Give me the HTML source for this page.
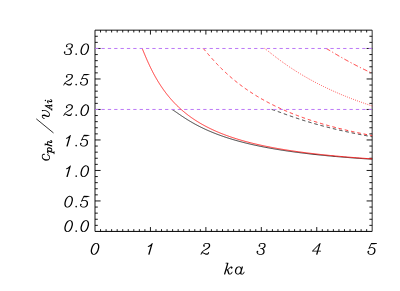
<!DOCTYPE html><html><head><meta charset="utf-8"><style>html,body{margin:0;padding:0;background:#fff;font-family:"Liberation Sans",sans-serif}svg{display:block}</style></head><body><svg width="400" height="291" viewBox="0 0 400 291"><rect width="400" height="291" fill="#fff"/><path d="M95.00 30.17V231.45" fill="none" stroke="#000" stroke-width="0.92"/><path d="M372.17 30.17V231.45" fill="none" stroke="#000" stroke-width="0.82"/><path d="M95.00 30.17H372.15" fill="none" stroke="#000" stroke-width="0.93"/><path d="M95.00 231.42H372.15" fill="none" stroke="#000" stroke-width="1.0"/><path d="M100.54 231.45v-2.30M100.54 30.17v2.30M106.09 231.45v-2.30M106.09 30.17v2.30M111.63 231.45v-2.30M111.63 30.17v2.30M117.18 231.45v-2.30M117.18 30.17v2.30M122.72 231.45v-2.30M122.72 30.17v2.30M128.26 231.45v-2.30M128.26 30.17v2.30M133.81 231.45v-2.30M133.81 30.17v2.30M139.35 231.45v-2.30M139.35 30.17v2.30M144.90 231.45v-2.30M144.90 30.17v2.30M150.44 231.45v-4.40M150.44 30.17v4.40M155.98 231.45v-2.30M155.98 30.17v2.30M161.53 231.45v-2.30M161.53 30.17v2.30M167.07 231.45v-2.30M167.07 30.17v2.30M172.62 231.45v-2.30M172.62 30.17v2.30M178.16 231.45v-2.30M178.16 30.17v2.30M183.70 231.45v-2.30M183.70 30.17v2.30M189.25 231.45v-2.30M189.25 30.17v2.30M194.79 231.45v-2.30M194.79 30.17v2.30M200.34 231.45v-2.30M200.34 30.17v2.30M205.88 231.45v-4.40M205.88 30.17v4.40M211.42 231.45v-2.30M211.42 30.17v2.30M216.97 231.45v-2.30M216.97 30.17v2.30M222.51 231.45v-2.30M222.51 30.17v2.30M228.06 231.45v-2.30M228.06 30.17v2.30M233.60 231.45v-2.30M233.60 30.17v2.30M239.14 231.45v-2.30M239.14 30.17v2.30M244.69 231.45v-2.30M244.69 30.17v2.30M250.23 231.45v-2.30M250.23 30.17v2.30M255.78 231.45v-2.30M255.78 30.17v2.30M261.32 231.45v-4.40M261.32 30.17v4.40M266.86 231.45v-2.30M266.86 30.17v2.30M272.41 231.45v-2.30M272.41 30.17v2.30M277.95 231.45v-2.30M277.95 30.17v2.30M283.50 231.45v-2.30M283.50 30.17v2.30M289.04 231.45v-2.30M289.04 30.17v2.30M294.58 231.45v-2.30M294.58 30.17v2.30M300.13 231.45v-2.30M300.13 30.17v2.30M305.67 231.45v-2.30M305.67 30.17v2.30M311.22 231.45v-2.30M311.22 30.17v2.30M316.76 231.45v-4.40M316.76 30.17v4.40M322.30 231.45v-2.30M322.30 30.17v2.30M327.85 231.45v-2.30M327.85 30.17v2.30M333.39 231.45v-2.30M333.39 30.17v2.30M338.94 231.45v-2.30M338.94 30.17v2.30M344.48 231.45v-2.30M344.48 30.17v2.30M350.02 231.45v-2.30M350.02 30.17v2.30M355.57 231.45v-2.30M355.57 30.17v2.30M361.11 231.45v-2.30M361.11 30.17v2.30M366.66 231.45v-2.30M366.66 30.17v2.30M95.00 225.35h2.80M372.20 225.35h-2.80M95.00 219.25h2.80M372.20 219.25h-2.80M95.00 213.15h2.80M372.20 213.15h-2.80M95.00 207.05h2.80M372.20 207.05h-2.80M95.00 200.95h5.60M372.20 200.95h-5.60M95.00 194.85h2.80M372.20 194.85h-2.80M95.00 188.75h2.80M372.20 188.75h-2.80M95.00 182.65h2.80M372.20 182.65h-2.80M95.00 176.56h2.80M372.20 176.56h-2.80M95.00 170.46h5.60M372.20 170.46h-5.60M95.00 164.36h2.80M372.20 164.36h-2.80M95.00 158.26h2.80M372.20 158.26h-2.80M95.00 152.16h2.80M372.20 152.16h-2.80M95.00 146.06h2.80M372.20 146.06h-2.80M95.00 139.96h5.60M372.20 139.96h-5.60M95.00 133.86h2.80M372.20 133.86h-2.80M95.00 127.76h2.80M372.20 127.76h-2.80M95.00 121.66h2.80M372.20 121.66h-2.80M95.00 115.56h2.80M372.20 115.56h-2.80M95.00 109.46h5.60M372.20 109.46h-5.60M95.00 103.36h2.80M372.20 103.36h-2.80M95.00 97.26h2.80M372.20 97.26h-2.80M95.00 91.16h2.80M372.20 91.16h-2.80M95.00 85.06h2.80M372.20 85.06h-2.80M95.00 78.97h5.60M372.20 78.97h-5.60M95.00 72.87h2.80M372.20 72.87h-2.80M95.00 66.77h2.80M372.20 66.77h-2.80M95.00 60.67h2.80M372.20 60.67h-2.80M95.00 54.57h2.80M372.20 54.57h-2.80M95.00 48.47h5.60M372.20 48.47h-5.60M95.00 42.37h2.80M372.20 42.37h-2.80M95.00 36.27h2.80M372.20 36.27h-2.80" fill="none" stroke="#000" stroke-width="0.90"/><polyline fill="none" stroke="#1a1a1a" stroke-width="0.88" points="171.97,109.46 172.45,109.71 172.90,109.98 173.35,110.26 173.79,110.54 174.21,110.83 174.63,111.11 175.08,111.41 175.51,111.71 175.93,112.00 176.36,112.30 176.78,112.59 177.21,112.89 177.66,113.20 178.08,113.49 178.51,113.79 178.96,114.10 179.37,114.39 179.80,114.68 180.24,114.98 180.68,115.28 181.14,115.59 181.56,115.88 181.99,116.17 182.43,116.46 182.88,116.76 183.34,117.06 183.81,117.37 184.24,117.65 184.67,117.93 185.12,118.22 185.57,118.51 186.03,118.80 186.50,119.10 186.97,119.39 187.46,119.70 187.89,119.97 188.34,120.24 188.79,120.51 189.25,120.79 189.71,121.07 190.19,121.35 190.67,121.64 191.16,121.92 191.65,122.21 192.16,122.50 192.60,122.76 193.06,123.02 193.52,123.28 193.98,123.54 194.46,123.80 194.94,124.07 195.43,124.33 195.92,124.60 196.42,124.87 196.93,125.14 197.45,125.41 197.97,125.69 198.50,125.96 199.04,126.24 199.51,126.48 199.98,126.72 200.46,126.96 200.95,127.20 201.44,127.44 201.94,127.69 202.45,127.93 202.96,128.18 203.48,128.43 204.00,128.68 204.54,128.93 205.08,129.18 205.62,129.43 206.18,129.68 206.74,129.94 207.31,130.19 207.89,130.45 208.38,130.66 208.87,130.88 209.37,131.09 209.87,131.31 210.38,131.52 210.90,131.74 211.42,131.96 211.95,132.18 212.49,132.40 213.03,132.62 213.58,132.84 214.14,133.06 214.70,133.29 215.27,133.51 215.84,133.73 216.43,133.96 217.02,134.18 217.61,134.41 218.22,134.64 218.83,134.87 219.45,135.09 220.08,135.32 220.72,135.55 221.24,135.74 221.76,135.92 222.29,136.11 222.82,136.29 223.36,136.48 223.90,136.66 224.45,136.85 225.01,137.04 225.57,137.23 226.14,137.41 226.71,137.60 227.29,137.79 227.88,137.98 228.47,138.17 229.07,138.36 229.68,138.55 230.29,138.74 230.91,138.93 231.54,139.12 232.18,139.32 232.82,139.51 233.47,139.70 234.13,139.90 234.80,140.09 235.47,140.28 236.15,140.48 236.85,140.67 237.54,140.87 238.25,141.06 238.97,141.26 239.69,141.46 240.43,141.65 240.99,141.80 241.55,141.95 242.12,142.10 242.69,142.25 243.27,142.40 243.85,142.55 244.44,142.70 245.04,142.85 245.64,143.00 246.25,143.15 246.86,143.30 247.48,143.45 248.11,143.60 248.74,143.75 249.38,143.90 250.02,144.05 250.68,144.20 251.33,144.35 252.00,144.51 252.67,144.66 253.35,144.81 254.04,144.96 254.73,145.12 255.44,145.27 256.15,145.42 256.86,145.58 257.59,145.73 258.32,145.89 259.06,146.04 259.81,146.19 260.57,146.35 261.34,146.50 262.11,146.66 262.90,146.81 263.69,146.97 264.49,147.13 265.30,147.28 266.12,147.44 266.95,147.60 267.80,147.75 268.65,147.91 269.51,148.07 270.38,148.22 271.26,148.38 272.15,148.54 272.76,148.64 273.36,148.75 273.97,148.85 274.59,148.96 275.21,149.07 275.84,149.17 276.47,149.28 277.11,149.38 277.75,149.49 278.40,149.60 279.06,149.70 279.72,149.81 280.39,149.91 281.06,150.02 281.74,150.13 282.42,150.23 283.11,150.34 283.81,150.45 284.51,150.55 285.22,150.66 285.93,150.77 286.66,150.88 287.39,150.98 288.12,151.09 288.86,151.20 289.61,151.31 290.37,151.41 291.13,151.52 291.91,151.63 292.68,151.74 293.47,151.85 294.26,151.95 295.07,152.06 295.88,152.17 296.69,152.28 297.52,152.39 298.35,152.50 299.20,152.60 300.05,152.71 300.91,152.82 301.78,152.93 302.65,153.04 303.54,153.15 304.44,153.26 305.34,153.37 306.26,153.48 307.18,153.59 308.12,153.70 309.06,153.81 310.02,153.92 310.98,154.03 311.96,154.14 312.95,154.25 313.94,154.36 314.95,154.47 315.97,154.58 317.01,154.69 318.05,154.80 319.11,154.91 320.18,155.02 321.26,155.13 322.35,155.24 323.46,155.35 324.58,155.46 325.72,155.57 326.86,155.69 328.03,155.80 329.20,155.91 330.39,156.02 331.60,156.13 332.82,156.24 334.06,156.35 335.31,156.47 336.58,156.58 337.87,156.69 338.52,156.75 339.17,156.80 339.83,156.86 340.49,156.92 341.16,156.97 341.83,157.03 342.50,157.08 343.18,157.14 343.87,157.20 344.56,157.25 345.25,157.31 345.95,157.36 346.66,157.42 347.37,157.48 348.08,157.53 348.80,157.59 349.52,157.65 350.25,157.70 350.99,157.76 351.72,157.82 352.47,157.87 353.22,157.93 353.98,157.99 354.74,158.04 355.50,158.10 356.27,158.16 357.05,158.21 357.84,158.27 358.63,158.33 359.42,158.38 360.22,158.44 361.03,158.50 361.84,158.55 362.66,158.61 363.49,158.67 364.32,158.72 365.16,158.78 366.01,158.84 366.86,158.89 367.72,158.95 368.58,159.01 369.45,159.06 370.33,159.12 371.22,159.18 372.11,159.24 372.20,159.24"/><polyline fill="none" stroke="#1a1a1a" stroke-width="0.88" stroke-dasharray="3.53 2.88" points="271.69,109.46 272.27,109.61 272.83,109.78 273.37,109.95 273.92,110.13 274.46,110.31 274.99,110.50 275.55,110.69 276.08,110.88 276.63,111.07 277.14,111.26 277.68,111.45 278.22,111.65 278.79,111.85 279.31,112.04 279.84,112.24 280.39,112.43 280.95,112.64 281.52,112.84 282.03,113.03 282.56,113.22 283.10,113.42 283.64,113.62 284.20,113.82 284.77,114.02 285.34,114.23 285.93,114.44 286.45,114.63 286.98,114.81 287.52,115.01 288.06,115.20 288.62,115.39 289.18,115.59 289.75,115.79 290.32,115.99 290.91,116.20 291.50,116.40 292.11,116.61 292.63,116.79 293.16,116.97 293.70,117.16 294.24,117.34 294.79,117.53 295.34,117.71 295.91,117.90 296.47,118.09 297.05,118.28 297.63,118.48 298.22,118.67 298.82,118.87 299.42,119.06 300.03,119.26 300.65,119.46 301.28,119.66 301.91,119.86 302.44,120.03 302.98,120.20 303.52,120.38 304.07,120.55 304.63,120.72 305.19,120.90 305.75,121.07 306.32,121.25 306.90,121.42 307.48,121.60 308.07,121.78 308.66,121.96 309.26,122.14 309.87,122.32 310.48,122.50 311.10,122.69 311.72,122.87 312.35,123.06 312.99,123.24 313.63,123.43 314.28,123.61 314.94,123.80 315.60,123.99 316.27,124.18 316.94,124.37 317.63,124.56 318.18,124.72 318.74,124.87 319.30,125.02 319.86,125.18 320.43,125.33 321.01,125.49 321.59,125.65 322.17,125.80 322.76,125.96 323.35,126.12 323.95,126.28 324.56,126.44 325.17,126.60 325.78,126.76 326.40,126.92 327.02,127.08 327.65,127.24 328.29,127.40 328.93,127.57 329.58,127.73 330.23,127.89 330.88,128.06 331.55,128.22 332.22,128.39 332.89,128.55 333.57,128.72 334.26,128.88 334.95,129.05 335.65,129.22 336.35,129.39 337.07,129.56 337.78,129.72 338.51,129.89 339.24,130.06 339.97,130.23 340.72,130.40 341.47,130.58 342.22,130.75 342.80,130.88 343.37,131.01 343.95,131.13 344.54,131.26 345.13,131.39 345.72,131.52 346.31,131.66 346.91,131.79 347.52,131.92 348.13,132.05 348.74,132.18 349.36,132.31 349.98,132.44 350.61,132.58 351.24,132.71 351.87,132.84 352.51,132.98 353.16,133.11 353.81,133.24 354.46,133.38 355.12,133.51 355.78,133.64 356.45,133.78 357.13,133.91 357.80,134.05 358.49,134.18 359.18,134.32 359.87,134.46 360.57,134.59 361.27,134.73 361.98,134.87 362.69,135.00 363.41,135.14 364.14,135.28 364.87,135.41 365.61,135.55 366.35,135.69 367.10,135.83 367.85,135.97 368.61,136.11 369.38,136.25 370.15,136.38 370.93,136.52 371.71,136.66 372.20,136.75"/><line x1="95.10" y1="109.46" x2="372.20" y2="109.46" stroke="#bd7af7" stroke-width="1.00" stroke-dasharray="3.3 3.06"/><polyline fill="none" stroke="#ff1414" stroke-width="0.88" points="142.14,48.47 142.36,48.94 142.59,49.45 142.80,49.94 143.01,50.45 143.23,50.96 143.44,51.48 143.66,51.99 143.86,52.49 144.08,53.00 144.28,53.50 144.50,54.02 144.72,54.55 144.93,55.05 145.14,55.56 145.36,56.09 145.59,56.63 145.81,57.13 146.02,57.64 146.25,58.16 146.47,58.69 146.71,59.23 146.92,59.72 147.14,60.22 147.37,60.73 147.59,61.24 147.83,61.76 148.06,62.29 148.31,62.83 148.53,63.31 148.75,63.79 148.98,64.28 149.21,64.78 149.44,65.28 149.68,65.79 149.92,66.30 150.17,66.82 150.42,67.34 150.68,67.87 150.94,68.40 151.20,68.94 151.44,69.41 151.67,69.89 151.92,70.37 152.16,70.85 152.41,71.34 152.66,71.83 152.92,72.32 153.18,72.82 153.44,73.32 153.71,73.82 153.98,74.33 154.26,74.84 154.54,75.36 154.83,75.88 155.12,76.40 155.37,76.85 155.62,77.30 155.88,77.75 156.14,78.21 156.41,78.67 156.67,79.13 156.95,79.59 157.22,80.06 157.50,80.53 157.78,81.00 158.07,81.47 158.36,81.94 158.65,82.42 158.95,82.90 159.25,83.38 159.56,83.86 159.87,84.35 160.19,84.84 160.51,85.33 160.83,85.82 161.16,86.32 161.49,86.81 161.83,87.31 162.11,87.73 162.40,88.15 162.69,88.57 162.99,88.99 163.29,89.42 163.59,89.84 163.90,90.27 164.21,90.69 164.52,91.12 164.84,91.55 165.16,91.99 165.48,92.42 165.81,92.86 166.15,93.29 166.48,93.73 166.83,94.17 167.17,94.61 167.52,95.05 167.88,95.49 168.24,95.94 168.60,96.39 168.97,96.83 169.35,97.28 169.73,97.73 170.11,98.19 170.50,98.64 170.89,99.09 171.29,99.55 171.70,100.01 172.11,100.46 172.44,100.83 172.78,101.20 173.12,101.57 173.46,101.94 173.81,102.31 174.16,102.69 174.52,103.06 174.87,103.43 175.24,103.81 175.61,104.18 175.98,104.56 176.35,104.94 176.74,105.31 177.12,105.69 177.51,106.07 177.91,106.45 178.30,106.84 178.71,107.22 179.12,107.60 179.53,107.98 179.95,108.37 180.37,108.76 180.80,109.14 181.24,109.53 181.68,109.92 182.12,110.31 182.57,110.70 183.03,111.09 183.49,111.48 183.96,111.87 184.44,112.26 184.92,112.66 185.41,113.05 185.90,113.45 186.40,113.84 186.91,114.24 187.42,114.64 187.94,115.04 188.47,115.44 188.87,115.74 189.28,116.04 189.69,116.34 190.10,116.64 190.52,116.94 190.94,117.24 191.37,117.55 191.80,117.85 192.24,118.15 192.68,118.46 193.12,118.76 193.57,119.07 194.03,119.37 194.49,119.68 194.96,119.98 195.43,120.29 195.90,120.60 196.39,120.90 196.87,121.21 197.37,121.52 197.87,121.83 198.37,122.14 198.88,122.45 199.40,122.76 199.92,123.07 200.45,123.38 200.99,123.69 201.53,124.00 202.08,124.32 202.63,124.63 203.19,124.94 203.76,125.26 204.34,125.57 204.92,125.89 205.51,126.20 206.11,126.52 206.72,126.83 207.33,127.15 207.95,127.46 208.58,127.78 209.22,128.10 209.87,128.42 210.52,128.73 211.19,129.05 211.86,129.37 212.55,129.69 213.24,130.01 213.94,130.33 214.65,130.65 215.38,130.97 215.86,131.19 216.35,131.40 216.85,131.62 217.35,131.83 217.86,132.05 218.37,132.26 218.89,132.48 219.41,132.69 219.93,132.91 220.47,133.13 221.00,133.34 221.54,133.56 222.09,133.78 222.65,133.99 223.21,134.21 223.77,134.43 224.34,134.64 224.92,134.86 225.50,135.08 226.09,135.30 226.69,135.52 227.29,135.73 227.90,135.95 228.51,136.17 229.13,136.39 229.76,136.61 230.40,136.83 231.04,137.05 231.69,137.27 232.35,137.49 233.01,137.71 233.68,137.93 234.36,138.15 235.05,138.37 235.75,138.59 236.45,138.81 237.16,139.03 237.88,139.25 238.61,139.47 239.35,139.69 240.10,139.92 240.85,140.14 241.62,140.36 242.39,140.58 243.18,140.80 243.97,141.03 244.78,141.25 245.59,141.47 246.42,141.69 247.25,141.92 248.10,142.14 248.96,142.37 249.83,142.59 250.71,142.81 251.60,143.04 252.51,143.26 253.42,143.49 254.36,143.71 255.30,143.94 256.25,144.16 257.22,144.39 258.21,144.61 259.21,144.84 260.22,145.06 261.25,145.29 262.29,145.52 263.35,145.74 264.42,145.97 265.51,146.19 266.62,146.42 267.74,146.65 268.89,146.88 270.05,147.10 270.63,147.22 271.22,147.33 271.82,147.44 272.42,147.56 273.03,147.67 273.64,147.79 274.25,147.90 274.87,148.01 275.50,148.13 276.13,148.24 276.77,148.36 277.41,148.47 278.06,148.59 278.71,148.70 279.37,148.81 280.03,148.93 280.70,149.04 281.38,149.16 282.06,149.27 282.74,149.39 283.44,149.50 284.14,149.62 284.84,149.73 285.55,149.84 286.27,149.96 287.00,150.07 287.73,150.19 288.46,150.30 289.21,150.42 289.96,150.53 290.72,150.65 291.48,150.76 292.26,150.88 293.04,150.99 293.82,151.11 294.62,151.23 295.42,151.34 296.23,151.46 297.05,151.57 297.88,151.69 298.71,151.80 299.55,151.92 300.40,152.03 301.26,152.15 302.13,152.26 303.01,152.38 303.89,152.50 304.79,152.61 305.69,152.73 306.60,152.84 307.53,152.96 308.46,153.08 309.40,153.19 310.36,153.31 311.32,153.42 312.29,153.54 313.28,153.66 314.27,153.77 315.28,153.89 316.29,154.00 317.32,154.12 318.36,154.24 319.41,154.35 320.48,154.47 321.55,154.59 322.64,154.70 323.74,154.82 324.86,154.94 325.99,155.05 327.13,155.17 328.28,155.29 329.45,155.40 330.63,155.52 331.83,155.64 333.04,155.75 334.27,155.87 335.51,155.99 336.77,156.10 338.05,156.22 339.34,156.34 340.65,156.46 341.97,156.57 343.32,156.69 344.68,156.81 346.06,156.93 347.46,157.04 348.87,157.16 350.31,157.28 351.77,157.40 353.24,157.51 354.74,157.63 356.26,157.75 357.81,157.87 359.37,157.98 360.96,158.10 362.57,158.22 364.21,158.34 365.87,158.46 367.55,158.57 369.26,158.69 371.00,158.81 372.20,158.89"/><polyline fill="none" stroke="#ff1414" stroke-width="0.88" stroke-dasharray="3.53 2.88" points="203.20,48.47 203.56,48.83 203.91,49.21 204.25,49.60 204.58,49.97 204.91,50.35 205.26,50.76 205.60,51.16 205.93,51.55 206.28,51.95 206.60,52.33 206.93,52.72 207.28,53.13 207.63,53.54 207.96,53.93 208.30,54.32 208.64,54.73 209.00,55.14 209.36,55.56 209.69,55.94 210.03,56.33 210.37,56.73 210.72,57.13 211.08,57.54 211.45,57.95 211.82,58.37 212.15,58.74 212.48,59.12 212.83,59.50 213.17,59.89 213.53,60.28 213.88,60.67 214.25,61.07 214.62,61.47 214.99,61.88 215.37,62.29 215.76,62.71 216.15,63.13 216.49,63.49 216.84,63.85 217.19,64.22 217.55,64.59 217.91,64.97 218.27,65.35 218.64,65.73 219.01,66.11 219.39,66.50 219.77,66.88 220.16,67.28 220.55,67.67 220.95,68.07 221.35,68.47 221.76,68.87 222.17,69.27 222.59,69.68 223.01,70.09 223.37,70.43 223.73,70.78 224.09,71.13 224.46,71.48 224.83,71.83 225.21,72.18 225.59,72.53 225.97,72.89 226.36,73.25 226.75,73.61 227.15,73.97 227.55,74.33 227.95,74.70 228.36,75.06 228.77,75.43 229.19,75.80 229.61,76.17 230.04,76.55 230.47,76.92 230.90,77.30 231.34,77.68 231.79,78.06 232.24,78.44 232.69,78.82 233.15,79.21 233.61,79.59 234.08,79.98 234.56,80.37 235.04,80.76 235.42,81.07 235.81,81.39 236.21,81.71 236.61,82.02 237.01,82.34 237.41,82.66 237.82,82.98 238.23,83.30 238.65,83.62 239.06,83.95 239.49,84.27 239.91,84.59 240.34,84.92 240.78,85.25 241.22,85.58 241.66,85.90 242.10,86.23 242.55,86.56 243.01,86.90 243.47,87.23 243.93,87.56 244.39,87.90 244.87,88.23 245.34,88.57 245.82,88.91 246.31,89.25 246.79,89.58 247.29,89.93 247.79,90.27 248.29,90.61 248.80,90.95 249.31,91.30 249.83,91.64 250.35,91.99 250.87,92.33 251.41,92.68 251.94,93.03 252.49,93.38 253.03,93.73 253.59,94.08 254.15,94.43 254.71,94.79 255.28,95.14 255.86,95.49 256.29,95.76 256.73,96.03 257.17,96.30 257.62,96.57 258.07,96.83 258.52,97.10 258.97,97.37 259.43,97.64 259.90,97.91 260.36,98.19 260.83,98.46 261.31,98.73 261.78,99.00 262.26,99.28 262.75,99.55 263.24,99.82 263.73,100.10 264.22,100.37 264.72,100.65 265.23,100.92 265.74,101.20 266.25,101.48 266.77,101.76 267.29,102.03 267.81,102.31 268.34,102.59 268.87,102.87 269.41,103.15 269.95,103.43 270.50,103.71 271.05,103.99 271.61,104.28 272.17,104.56 272.73,104.84 273.30,105.13 273.88,105.41 274.46,105.69 275.04,105.98 275.63,106.26 276.23,106.55 276.83,106.84 277.43,107.12 278.04,107.41 278.66,107.70 279.28,107.98 279.91,108.27 280.54,108.56 281.18,108.85 281.82,109.14 282.47,109.43 283.12,109.72 283.79,110.01 284.45,110.31 285.13,110.60 285.81,110.89 286.49,111.18 287.18,111.48 287.88,111.77 288.59,112.07 289.30,112.36 290.02,112.66 290.74,112.95 291.48,113.25 292.22,113.55 292.96,113.84 293.46,114.04 293.97,114.24 294.48,114.44 294.99,114.64 295.51,114.84 296.02,115.04 296.55,115.24 297.07,115.44 297.60,115.64 298.13,115.84 298.67,116.04 299.21,116.24 299.75,116.44 300.30,116.64 300.85,116.84 301.40,117.04 301.96,117.24 302.52,117.44 303.09,117.65 303.66,117.85 304.23,118.05 304.81,118.25 305.39,118.46 305.98,118.66 306.57,118.86 307.16,119.07 307.76,119.27 308.36,119.47 308.97,119.68 309.58,119.88 310.20,120.09 310.82,120.29 311.44,120.49 312.07,120.70 312.70,120.90 313.34,121.11 313.99,121.32 314.63,121.52 315.29,121.73 315.95,121.93 316.61,122.14 317.28,122.35 317.95,122.55 318.63,122.76 319.31,122.97 320.00,123.17 320.69,123.38 321.39,123.59 322.09,123.80 322.80,124.00 323.52,124.21 324.24,124.42 324.97,124.63 325.70,124.84 326.44,125.05 327.18,125.26 327.93,125.47 328.69,125.68 329.45,125.89 330.22,126.09 331.00,126.31 331.78,126.52 332.57,126.73 333.36,126.94 334.16,127.15 334.97,127.36 335.79,127.57 336.61,127.78 337.44,127.99 338.27,128.20 339.11,128.42 339.97,128.63 340.82,128.84 341.69,129.05 342.56,129.27 343.44,129.48 344.33,129.69 345.23,129.91 346.13,130.12 347.04,130.33 347.96,130.55 348.89,130.76 349.83,130.97 350.78,131.19 351.73,131.40 352.70,131.62 353.67,131.83 354.65,132.05 355.64,132.26 356.64,132.48 357.65,132.69 358.67,132.91 359.70,133.13 360.74,133.34 361.79,133.56 362.85,133.78 363.92,133.99 365.01,134.21 366.10,134.43 367.20,134.64 368.32,134.86 369.44,135.08 370.58,135.30 371.73,135.52 372.20,135.60"/><polyline fill="none" stroke="#ff1414" stroke-width="0.88" stroke-dasharray="0.8 1.38" points="264.62,48.47 265.06,48.76 265.47,49.06 265.89,49.37 266.31,49.70 266.74,50.03 267.15,50.35 267.55,50.67 267.97,50.99 268.40,51.34 268.81,51.66 269.22,51.99 269.66,52.33 270.05,52.64 270.46,52.96 270.88,53.29 271.31,53.63 271.75,53.97 272.19,54.32 272.59,54.64 273.00,54.96 273.42,55.28 273.85,55.61 274.28,55.94 274.72,56.28 275.17,56.63 275.62,56.98 276.02,57.28 276.43,57.59 276.83,57.90 277.25,58.21 277.67,58.53 278.10,58.85 278.53,59.17 278.97,59.50 279.42,59.83 279.87,60.16 280.33,60.50 280.79,60.84 281.26,61.18 281.74,61.53 282.22,61.88 282.63,62.17 283.04,62.47 283.46,62.77 283.88,63.07 284.31,63.37 284.74,63.67 285.17,63.98 285.61,64.28 286.06,64.59 286.51,64.91 286.96,65.22 287.42,65.54 287.88,65.85 288.35,66.17 288.83,66.50 289.30,66.82 289.79,67.14 290.28,67.47 290.77,67.80 291.27,68.13 291.78,68.47 292.29,68.80 292.80,69.14 293.32,69.48 293.85,69.82 294.38,70.16 294.81,70.43 295.24,70.71 295.68,70.99 296.12,71.27 296.56,71.55 297.01,71.83 297.46,72.11 297.92,72.39 298.37,72.68 298.84,72.96 299.30,73.25 299.77,73.54 300.25,73.82 300.73,74.11 301.21,74.41 301.70,74.70 302.19,74.99 302.68,75.28 303.18,75.58 303.68,75.88 304.19,76.17 304.70,76.47 305.22,76.77 305.74,77.07 306.26,77.37 306.79,77.68 307.33,77.98 307.87,78.28 308.41,78.59 308.96,78.90 309.51,79.21 310.07,79.51 310.63,79.82 311.20,80.14 311.77,80.45 312.34,80.76 312.93,81.07 313.51,81.39 314.10,81.71 314.70,82.02 315.30,82.34 315.91,82.66 316.52,82.98 316.99,83.22 317.45,83.46 317.92,83.70 318.39,83.95 318.87,84.19 319.35,84.43 319.83,84.68 320.31,84.92 320.80,85.17 321.29,85.41 321.79,85.66 322.29,85.90 322.79,86.15 323.29,86.40 323.80,86.65 324.31,86.90 324.83,87.15 325.35,87.40 325.87,87.65 326.40,87.90 326.93,88.15 327.46,88.40 328.00,88.65 328.54,88.91 329.08,89.16 329.63,89.42 330.18,89.67 330.74,89.93 331.30,90.18 331.86,90.44 332.43,90.69 333.00,90.95 333.58,91.21 334.16,91.47 334.74,91.73 335.33,91.99 335.92,92.25 336.52,92.51 337.12,92.77 337.72,93.03 338.33,93.29 338.95,93.55 339.56,93.82 340.19,94.08 340.81,94.34 341.45,94.61 342.08,94.87 342.72,95.14 343.37,95.41 344.02,95.67 344.68,95.94 345.34,96.21 346.00,96.48 346.67,96.74 347.35,97.01 348.03,97.28 348.72,97.55 349.41,97.82 350.10,98.09 350.80,98.37 351.51,98.64 352.22,98.91 352.94,99.18 353.67,99.46 354.39,99.73 355.13,100.01 355.87,100.28 356.62,100.56 357.37,100.83 358.13,101.11 358.89,101.39 359.66,101.66 360.18,101.85 360.70,102.03 361.22,102.22 361.75,102.41 362.28,102.59 362.81,102.78 363.34,102.96 363.88,103.15 364.42,103.34 364.96,103.53 365.51,103.71 366.05,103.90 366.61,104.09 367.16,104.28 367.72,104.46 368.28,104.65 368.84,104.84 369.41,105.03 369.98,105.22 370.55,105.41 371.13,105.60 371.71,105.79 372.20,105.95"/><polyline fill="none" stroke="#ff1414" stroke-width="0.88" stroke-dasharray="4.7 2.35 1.15 2.35" points="326.13,48.47 326.62,48.72 327.09,48.98 327.58,49.26 328.03,49.52 328.48,49.78 328.95,50.06 329.39,50.32 329.86,50.60 330.35,50.89 330.80,51.16 331.27,51.44 331.75,51.73 332.24,52.02 332.69,52.29 333.14,52.56 333.61,52.84 334.09,53.13 334.58,53.42 335.08,53.71 335.59,54.02 336.04,54.28 336.49,54.55 336.95,54.82 337.42,55.09 337.90,55.37 338.38,55.66 338.88,55.94 339.38,56.23 339.89,56.53 340.40,56.83 340.93,57.13 341.46,57.43 341.91,57.69 342.36,57.95 342.82,58.21 343.29,58.47 343.76,58.74 344.24,59.01 344.72,59.28 345.21,59.55 345.71,59.83 346.21,60.11 346.71,60.39 347.23,60.67 347.74,60.95 348.27,61.24 348.80,61.53 349.33,61.82 349.87,62.11 350.42,62.41 350.97,62.71 351.53,63.01 352.10,63.31 352.67,63.61 353.13,63.85 353.60,64.10 354.07,64.35 354.54,64.59 355.02,64.84 355.50,65.09 355.99,65.35 356.48,65.60 356.98,65.85 357.48,66.11 357.98,66.37 358.49,66.62 359.00,66.88 359.51,67.14 360.03,67.41 360.56,67.67 361.09,67.93 361.62,68.20 362.16,68.47 362.70,68.73 363.25,69.00 363.80,69.27 364.36,69.54 364.92,69.82 365.49,70.09 366.06,70.37 366.63,70.64 367.22,70.92 367.80,71.20 368.39,71.48 368.99,71.76 369.59,72.04 370.19,72.32 370.80,72.61 371.42,72.89 372.04,73.18 372.20,73.25"/><line x1="95.10" y1="48.47" x2="372.20" y2="48.47" stroke="#bd7af7" stroke-width="1.00" stroke-dasharray="3.3 3.06"/><g transform="translate(90.20 231.55)" fill="#000"><path transform="translate(-27.04 0.00) scale(0.5200)" d="M14.46 -21.62L11.79 -21.71L8.79 -20.71L6.29 -18.21L4.29 -15.21L3.29 -12.21L2.29 -8.12L2.29 -4.71L3.29 -1.71L4.79 -0.21L6.62 0.71L9.29 0.79L12.29 -0.21L14.79 -2.71L16.79 -5.71L17.79 -8.71L18.79 -12.79L18.79 -16.21L17.79 -19.21L16.29 -20.71ZM13.79 -20.21L15.38 -18.62L16.29 -15.88L16.29 -12.88L15.46 -9.54L14.38 -6.29L12.46 -3.38L10.71 -1.62L8.88 -0.71L7.29 -0.71L5.71 -2.29L4.79 -5.04L4.79 -8.04L5.62 -11.38L6.71 -14.62L8.62 -17.54L10.38 -19.29L12.21 -20.21Z"/><path transform="translate(-16.64 0.00) scale(0.5200)" d="M5.04 -2.71L4.71 -2.62L3.38 -1.29L3.29 -0.96L3.38 -0.62L4.71 0.71L5.04 0.79L5.38 0.71L6.71 -0.62L6.79 -0.96L6.71 -1.29L5.38 -2.62Z"/><path transform="translate(-10.92 0.00) scale(0.5200)" d="M14.46 -21.62L11.79 -21.71L8.79 -20.71L6.29 -18.21L4.29 -15.21L3.29 -12.21L2.29 -8.12L2.29 -4.71L3.29 -1.71L4.79 -0.21L6.62 0.71L9.29 0.79L12.29 -0.21L14.79 -2.71L16.79 -5.71L17.79 -8.71L18.79 -12.79L18.79 -16.21L17.79 -19.21L16.29 -20.71ZM13.79 -20.21L15.38 -18.62L16.29 -15.88L16.29 -12.88L15.46 -9.54L14.38 -6.29L12.46 -3.38L10.71 -1.62L8.88 -0.71L7.29 -0.71L5.71 -2.29L4.79 -5.04L4.79 -8.04L5.62 -11.38L6.71 -14.62L8.62 -17.54L10.38 -19.29L12.21 -20.21Z"/></g><g transform="translate(90.20 207.15)" fill="#000"><path transform="translate(-27.04 0.00) scale(0.5200)" d="M14.46 -21.62L11.79 -21.71L8.79 -20.71L6.29 -18.21L4.29 -15.21L3.29 -12.21L2.29 -8.12L2.29 -4.71L3.29 -1.71L4.79 -0.21L6.62 0.71L9.29 0.79L12.29 -0.21L14.79 -2.71L16.79 -5.71L17.79 -8.71L18.79 -12.79L18.79 -16.21L17.79 -19.21L16.29 -20.71ZM13.79 -20.21L15.38 -18.62L16.29 -15.88L16.29 -12.88L15.46 -9.54L14.38 -6.29L12.46 -3.38L10.71 -1.62L8.88 -0.71L7.29 -0.71L5.71 -2.29L4.79 -5.04L4.79 -8.04L5.62 -11.38L6.71 -14.62L8.62 -17.54L10.38 -19.29L12.21 -20.21Z"/><path transform="translate(-16.64 0.00) scale(0.5200)" d="M5.04 -2.71L4.71 -2.62L3.38 -1.29L3.29 -0.96L3.38 -0.62L4.71 0.71L5.04 0.79L5.38 0.71L6.71 -0.62L6.79 -0.96L6.71 -1.29L5.38 -2.62Z"/><path transform="translate(-10.92 0.00) scale(0.5200)" d="M19.38 -21.62L9.04 -21.71L8.71 -21.62L8.29 -21.21L3.38 -11.38L3.38 -10.62L3.71 -10.29L4.38 -10.29L5.38 -11.29L8.12 -12.21L10.88 -12.21L12.71 -11.29L13.38 -10.62L14.29 -8.79L14.29 -6.04L13.38 -3.29L11.71 -1.62L9.88 -0.71L7.12 -0.71L4.38 -1.62L3.71 -2.29L3.29 -3.21L4.71 -4.62L4.79 -4.96L4.71 -5.29L3.38 -6.62L2.71 -6.62L1.38 -5.29L1.29 -3.96L1.38 -3.54L2.29 -1.71L3.79 -0.21L6.79 0.79L10.29 0.79L13.29 -0.21L15.79 -2.71L16.79 -5.71L16.79 -8.96L16.71 -9.38L15.79 -11.21L14.29 -12.71L11.29 -13.71L7.79 -13.71L6.21 -13.12L6.04 -13.29L9.04 -19.21L14.29 -19.21L19.38 -20.29L19.71 -20.62L19.71 -21.29Z"/></g><g transform="translate(90.20 176.66)" fill="#000"><path transform="translate(-27.04 0.00) scale(0.5200)" d="M14.38 -21.62L13.71 -21.62L10.62 -18.54L7.88 -16.71L5.79 -15.71L5.38 -15.29L5.38 -14.62L5.71 -14.29L6.29 -14.21L9.29 -15.21L10.88 -16.04L10.96 -15.96L6.29 -0.21L6.38 0.38L6.71 0.71L7.04 0.79L7.54 0.54L8.04 0.79L8.38 0.71L8.79 0.21L14.71 -20.46L14.71 -21.29Z"/><path transform="translate(-16.64 0.00) scale(0.5200)" d="M5.04 -2.71L4.71 -2.62L3.38 -1.29L3.29 -0.96L3.38 -0.62L4.71 0.71L5.04 0.79L5.38 0.71L6.71 -0.62L6.79 -0.96L6.71 -1.29L5.38 -2.62Z"/><path transform="translate(-10.92 0.00) scale(0.5200)" d="M14.46 -21.62L11.79 -21.71L8.79 -20.71L6.29 -18.21L4.29 -15.21L3.29 -12.21L2.29 -8.12L2.29 -4.71L3.29 -1.71L4.79 -0.21L6.62 0.71L9.29 0.79L12.29 -0.21L14.79 -2.71L16.79 -5.71L17.79 -8.71L18.79 -12.79L18.79 -16.21L17.79 -19.21L16.29 -20.71ZM13.79 -20.21L15.38 -18.62L16.29 -15.88L16.29 -12.88L15.46 -9.54L14.38 -6.29L12.46 -3.38L10.71 -1.62L8.88 -0.71L7.29 -0.71L5.71 -2.29L4.79 -5.04L4.79 -8.04L5.62 -11.38L6.71 -14.62L8.62 -17.54L10.38 -19.29L12.21 -20.21Z"/></g><g transform="translate(90.20 146.16)" fill="#000"><path transform="translate(-27.04 0.00) scale(0.5200)" d="M14.38 -21.62L13.71 -21.62L10.62 -18.54L7.88 -16.71L5.79 -15.71L5.38 -15.29L5.38 -14.62L5.71 -14.29L6.29 -14.21L9.29 -15.21L10.88 -16.04L10.96 -15.96L6.29 -0.21L6.38 0.38L6.71 0.71L7.04 0.79L7.54 0.54L8.04 0.79L8.38 0.71L8.79 0.21L14.71 -20.46L14.71 -21.29Z"/><path transform="translate(-16.64 0.00) scale(0.5200)" d="M5.04 -2.71L4.71 -2.62L3.38 -1.29L3.29 -0.96L3.38 -0.62L4.71 0.71L5.04 0.79L5.38 0.71L6.71 -0.62L6.79 -0.96L6.71 -1.29L5.38 -2.62Z"/><path transform="translate(-10.92 0.00) scale(0.5200)" d="M19.38 -21.62L9.04 -21.71L8.71 -21.62L8.29 -21.21L3.38 -11.38L3.38 -10.62L3.71 -10.29L4.38 -10.29L5.38 -11.29L8.12 -12.21L10.88 -12.21L12.71 -11.29L13.38 -10.62L14.29 -8.79L14.29 -6.04L13.38 -3.29L11.71 -1.62L9.88 -0.71L7.12 -0.71L4.38 -1.62L3.71 -2.29L3.29 -3.21L4.71 -4.62L4.79 -4.96L4.71 -5.29L3.38 -6.62L2.71 -6.62L1.38 -5.29L1.29 -3.96L1.38 -3.54L2.29 -1.71L3.79 -0.21L6.79 0.79L10.29 0.79L13.29 -0.21L15.79 -2.71L16.79 -5.71L16.79 -8.96L16.71 -9.38L15.79 -11.21L14.29 -12.71L11.29 -13.71L7.79 -13.71L6.21 -13.12L6.04 -13.29L9.04 -19.21L14.29 -19.21L19.38 -20.29L19.71 -20.62L19.71 -21.29Z"/></g><g transform="translate(90.20 115.66)" fill="#000"><path transform="translate(-27.04 0.00) scale(0.5200)" d="M17.29 -20.71L14.29 -21.71L10.79 -21.71L7.79 -20.71L6.29 -19.21L5.38 -17.38L5.29 -15.96L5.38 -15.62L6.71 -14.29L7.38 -14.29L8.71 -15.62L8.79 -15.96L8.71 -16.29L7.29 -17.71L7.71 -18.62L8.38 -19.29L11.12 -20.21L13.88 -20.21L15.38 -19.46L16.29 -17.79L16.29 -16.12L15.38 -14.29L13.62 -12.54L4.79 -6.71L2.29 -4.21L0.38 -0.38L0.38 0.38L0.71 0.71L1.38 0.71L1.79 0.29L2.71 -1.62L3.29 -2.21L4.79 -2.21L9.46 0.62L10.04 0.79L13.46 0.71L15.29 -0.21L15.79 -0.71L16.79 -3.71L16.71 -4.29L16.38 -4.62L15.71 -4.62L15.29 -4.21L14.54 -2.62L12.88 -1.71L10.12 -1.71L5.46 -3.62L3.88 -3.79L5.46 -5.38L8.21 -7.21L12.29 -9.21L15.29 -11.21L17.79 -13.71L18.71 -15.54L18.79 -17.96L18.71 -18.38L17.79 -20.21Z"/><path transform="translate(-16.64 0.00) scale(0.5200)" d="M5.04 -2.71L4.71 -2.62L3.38 -1.29L3.29 -0.96L3.38 -0.62L4.71 0.71L5.04 0.79L5.38 0.71L6.71 -0.62L6.79 -0.96L6.71 -1.29L5.38 -2.62Z"/><path transform="translate(-10.92 0.00) scale(0.5200)" d="M14.46 -21.62L11.79 -21.71L8.79 -20.71L6.29 -18.21L4.29 -15.21L3.29 -12.21L2.29 -8.12L2.29 -4.71L3.29 -1.71L4.79 -0.21L6.62 0.71L9.29 0.79L12.29 -0.21L14.79 -2.71L16.79 -5.71L17.79 -8.71L18.79 -12.79L18.79 -16.21L17.79 -19.21L16.29 -20.71ZM13.79 -20.21L15.38 -18.62L16.29 -15.88L16.29 -12.88L15.46 -9.54L14.38 -6.29L12.46 -3.38L10.71 -1.62L8.88 -0.71L7.29 -0.71L5.71 -2.29L4.79 -5.04L4.79 -8.04L5.62 -11.38L6.71 -14.62L8.62 -17.54L10.38 -19.29L12.21 -20.21Z"/></g><g transform="translate(90.20 85.17)" fill="#000"><path transform="translate(-27.04 0.00) scale(0.5200)" d="M17.29 -20.71L14.29 -21.71L10.79 -21.71L7.79 -20.71L6.29 -19.21L5.38 -17.38L5.29 -15.96L5.38 -15.62L6.71 -14.29L7.38 -14.29L8.71 -15.62L8.79 -15.96L8.71 -16.29L7.29 -17.71L7.71 -18.62L8.38 -19.29L11.12 -20.21L13.88 -20.21L15.38 -19.46L16.29 -17.79L16.29 -16.12L15.38 -14.29L13.62 -12.54L4.79 -6.71L2.29 -4.21L0.38 -0.38L0.38 0.38L0.71 0.71L1.38 0.71L1.79 0.29L2.71 -1.62L3.29 -2.21L4.79 -2.21L9.46 0.62L10.04 0.79L13.46 0.71L15.29 -0.21L15.79 -0.71L16.79 -3.71L16.71 -4.29L16.38 -4.62L15.71 -4.62L15.29 -4.21L14.54 -2.62L12.88 -1.71L10.12 -1.71L5.46 -3.62L3.88 -3.79L5.46 -5.38L8.21 -7.21L12.29 -9.21L15.29 -11.21L17.79 -13.71L18.71 -15.54L18.79 -17.96L18.71 -18.38L17.79 -20.21Z"/><path transform="translate(-16.64 0.00) scale(0.5200)" d="M5.04 -2.71L4.71 -2.62L3.38 -1.29L3.29 -0.96L3.38 -0.62L4.71 0.71L5.04 0.79L5.38 0.71L6.71 -0.62L6.79 -0.96L6.71 -1.29L5.38 -2.62Z"/><path transform="translate(-10.92 0.00) scale(0.5200)" d="M19.38 -21.62L9.04 -21.71L8.71 -21.62L8.29 -21.21L3.38 -11.38L3.38 -10.62L3.71 -10.29L4.38 -10.29L5.38 -11.29L8.12 -12.21L10.88 -12.21L12.71 -11.29L13.38 -10.62L14.29 -8.79L14.29 -6.04L13.38 -3.29L11.71 -1.62L9.88 -0.71L7.12 -0.71L4.38 -1.62L3.71 -2.29L3.29 -3.21L4.71 -4.62L4.79 -4.96L4.71 -5.29L3.38 -6.62L2.71 -6.62L1.38 -5.29L1.29 -3.96L1.38 -3.54L2.29 -1.71L3.79 -0.21L6.79 0.79L10.29 0.79L13.29 -0.21L15.79 -2.71L16.79 -5.71L16.79 -8.96L16.71 -9.38L15.79 -11.21L14.29 -12.71L11.29 -13.71L7.79 -13.71L6.21 -13.12L6.04 -13.29L9.04 -19.21L14.29 -19.21L19.38 -20.29L19.71 -20.62L19.71 -21.29Z"/></g><g transform="translate(90.20 54.67)" fill="#000"><path transform="translate(-27.04 0.00) scale(0.5200)" d="M17.29 -20.71L14.29 -21.71L10.79 -21.71L7.79 -20.71L6.29 -19.21L5.38 -17.38L5.29 -15.96L5.38 -15.62L6.71 -14.29L7.38 -14.29L8.71 -15.62L8.79 -15.96L8.71 -16.29L7.29 -17.71L7.71 -18.62L8.38 -19.29L11.12 -20.21L13.88 -20.21L15.38 -19.46L16.29 -17.79L16.29 -16.12L15.38 -14.29L13.71 -12.62L10.96 -11.71L8.71 -11.62L8.38 -11.29L8.29 -10.96L8.38 -10.62L8.71 -10.29L10.88 -10.21L12.71 -9.29L13.38 -8.62L14.29 -6.79L14.29 -4.12L13.38 -2.29L12.71 -1.62L10.88 -0.71L7.12 -0.71L4.38 -1.62L3.71 -2.29L3.29 -3.21L4.71 -4.62L4.71 -5.29L3.38 -6.62L3.04 -6.71L2.71 -6.62L1.38 -5.29L1.29 -3.96L1.38 -3.54L2.29 -1.71L3.79 -0.21L6.79 0.79L11.29 0.79L14.29 -0.21L15.79 -1.71L16.71 -3.54L16.79 -3.96L16.71 -7.38L15.79 -9.21L14.29 -10.71L13.54 -10.96L14.29 -11.21L17.29 -13.21L17.79 -13.71L18.71 -15.54L18.71 -18.38L17.79 -20.21Z"/><path transform="translate(-16.64 0.00) scale(0.5200)" d="M5.04 -2.71L4.71 -2.62L3.38 -1.29L3.29 -0.96L3.38 -0.62L4.71 0.71L5.04 0.79L5.38 0.71L6.71 -0.62L6.79 -0.96L6.71 -1.29L5.38 -2.62Z"/><path transform="translate(-10.92 0.00) scale(0.5200)" d="M14.46 -21.62L11.79 -21.71L8.79 -20.71L6.29 -18.21L4.29 -15.21L3.29 -12.21L2.29 -8.12L2.29 -4.71L3.29 -1.71L4.79 -0.21L6.62 0.71L9.29 0.79L12.29 -0.21L14.79 -2.71L16.79 -5.71L17.79 -8.71L18.79 -12.79L18.79 -16.21L17.79 -19.21L16.29 -20.71ZM13.79 -20.21L15.38 -18.62L16.29 -15.88L16.29 -12.88L15.46 -9.54L14.38 -6.29L12.46 -3.38L10.71 -1.62L8.88 -0.71L7.29 -0.71L5.71 -2.29L4.79 -5.04L4.79 -8.04L5.62 -11.38L6.71 -14.62L8.62 -17.54L10.38 -19.29L12.21 -20.21Z"/></g><g transform="translate(95.00 254.30)" fill="#000"><path transform="translate(-5.46 0.00) scale(0.5200)" d="M14.46 -21.62L11.79 -21.71L8.79 -20.71L6.29 -18.21L4.29 -15.21L3.29 -12.21L2.29 -8.12L2.29 -4.71L3.29 -1.71L4.79 -0.21L6.62 0.71L9.29 0.79L12.29 -0.21L14.79 -2.71L16.79 -5.71L17.79 -8.71L18.79 -12.79L18.79 -16.21L17.79 -19.21L16.29 -20.71ZM13.79 -20.21L15.38 -18.62L16.29 -15.88L16.29 -12.88L15.46 -9.54L14.38 -6.29L12.46 -3.38L10.71 -1.62L8.88 -0.71L7.29 -0.71L5.71 -2.29L4.79 -5.04L4.79 -8.04L5.62 -11.38L6.71 -14.62L8.62 -17.54L10.38 -19.29L12.21 -20.21Z"/></g><g transform="translate(150.44 254.30)" fill="#000"><path transform="translate(-5.46 0.00) scale(0.5200)" d="M14.38 -21.62L13.71 -21.62L10.62 -18.54L7.88 -16.71L5.79 -15.71L5.38 -15.29L5.38 -14.62L5.71 -14.29L6.29 -14.21L9.29 -15.21L10.88 -16.04L10.96 -15.96L6.29 -0.21L6.38 0.38L6.71 0.71L7.04 0.79L7.54 0.54L8.04 0.79L8.38 0.71L8.79 0.21L14.71 -20.46L14.71 -21.29Z"/></g><g transform="translate(205.88 254.30)" fill="#000"><path transform="translate(-5.46 0.00) scale(0.5200)" d="M17.29 -20.71L14.29 -21.71L10.79 -21.71L7.79 -20.71L6.29 -19.21L5.38 -17.38L5.29 -15.96L5.38 -15.62L6.71 -14.29L7.38 -14.29L8.71 -15.62L8.79 -15.96L8.71 -16.29L7.29 -17.71L7.71 -18.62L8.38 -19.29L11.12 -20.21L13.88 -20.21L15.38 -19.46L16.29 -17.79L16.29 -16.12L15.38 -14.29L13.62 -12.54L4.79 -6.71L2.29 -4.21L0.38 -0.38L0.38 0.38L0.71 0.71L1.38 0.71L1.79 0.29L2.71 -1.62L3.29 -2.21L4.79 -2.21L9.46 0.62L10.04 0.79L13.46 0.71L15.29 -0.21L15.79 -0.71L16.79 -3.71L16.71 -4.29L16.38 -4.62L15.71 -4.62L15.29 -4.21L14.54 -2.62L12.88 -1.71L10.12 -1.71L5.46 -3.62L3.88 -3.79L5.46 -5.38L8.21 -7.21L12.29 -9.21L15.29 -11.21L17.79 -13.71L18.71 -15.54L18.79 -17.96L18.71 -18.38L17.79 -20.21Z"/></g><g transform="translate(261.32 254.30)" fill="#000"><path transform="translate(-5.46 0.00) scale(0.5200)" d="M17.29 -20.71L14.29 -21.71L10.79 -21.71L7.79 -20.71L6.29 -19.21L5.38 -17.38L5.29 -15.96L5.38 -15.62L6.71 -14.29L7.38 -14.29L8.71 -15.62L8.79 -15.96L8.71 -16.29L7.29 -17.71L7.71 -18.62L8.38 -19.29L11.12 -20.21L13.88 -20.21L15.38 -19.46L16.29 -17.79L16.29 -16.12L15.38 -14.29L13.71 -12.62L10.96 -11.71L8.71 -11.62L8.38 -11.29L8.29 -10.96L8.38 -10.62L8.71 -10.29L10.88 -10.21L12.71 -9.29L13.38 -8.62L14.29 -6.79L14.29 -4.12L13.38 -2.29L12.71 -1.62L10.88 -0.71L7.12 -0.71L4.38 -1.62L3.71 -2.29L3.29 -3.21L4.71 -4.62L4.71 -5.29L3.38 -6.62L3.04 -6.71L2.71 -6.62L1.38 -5.29L1.29 -3.96L1.38 -3.54L2.29 -1.71L3.79 -0.21L6.79 0.79L11.29 0.79L14.29 -0.21L15.79 -1.71L16.71 -3.54L16.79 -3.96L16.71 -7.38L15.79 -9.21L14.29 -10.71L13.54 -10.96L14.29 -11.21L17.29 -13.21L17.79 -13.71L18.71 -15.54L18.71 -18.38L17.79 -20.21Z"/></g><g transform="translate(316.76 254.30)" fill="#000"><path transform="translate(-5.46 0.00) scale(0.5200)" d="M17.38 -21.62L16.71 -21.62L1.38 -6.29L1.38 -5.62L1.71 -5.29L2.04 -5.21L10.71 -5.21L10.71 -4.71L9.29 -0.21L9.38 0.38L9.71 0.71L10.04 0.79L10.54 0.54L11.04 0.79L11.38 0.71L11.71 0.38L13.21 -4.96L13.38 -5.21L18.04 -5.21L18.38 -5.29L18.71 -5.62L18.71 -6.29L18.38 -6.62L18.04 -6.71L13.79 -6.79L17.79 -20.79L17.71 -21.29ZM14.29 -17.21L14.38 -16.96L11.29 -6.79L3.96 -6.71L3.88 -6.79Z"/></g><g transform="translate(372.20 254.30)" fill="#000"><path transform="translate(-5.46 0.00) scale(0.5200)" d="M19.38 -21.62L9.04 -21.71L8.71 -21.62L8.29 -21.21L3.38 -11.38L3.38 -10.62L3.71 -10.29L4.38 -10.29L5.38 -11.29L8.12 -12.21L10.88 -12.21L12.71 -11.29L13.38 -10.62L14.29 -8.79L14.29 -6.04L13.38 -3.29L11.71 -1.62L9.88 -0.71L7.12 -0.71L4.38 -1.62L3.71 -2.29L3.29 -3.21L4.71 -4.62L4.79 -4.96L4.71 -5.29L3.38 -6.62L2.71 -6.62L1.38 -5.29L1.29 -3.96L1.38 -3.54L2.29 -1.71L3.79 -0.21L6.79 0.79L10.29 0.79L13.29 -0.21L15.79 -2.71L16.79 -5.71L16.79 -8.96L16.71 -9.38L15.79 -11.21L14.29 -12.71L11.29 -13.71L7.79 -13.71L6.21 -13.12L6.04 -13.29L9.04 -19.21L14.29 -19.21L19.38 -20.29L19.71 -20.62L19.71 -21.29Z"/></g><g transform="translate(234.00 274.10)" fill="#000"><path transform="translate(-10.66 0.00) scale(0.5200)" d="M4.71 -21.62L4.38 -21.29L4.29 -20.96L4.38 -20.62L4.71 -20.29L6.96 -20.21L7.04 -20.04L1.38 -0.46L1.38 0.38L1.71 0.71L2.04 0.79L2.54 0.54L3.04 0.79L3.38 0.71L3.71 0.38L5.79 -6.96L5.96 -7.21L6.79 -7.21L7.38 -6.62L9.29 -0.71L10.71 0.71L13.46 0.71L15.29 -0.21L15.79 -0.71L17.62 -3.46L17.79 -3.96L17.71 -4.29L17.38 -4.62L16.71 -4.62L16.29 -4.21L14.54 -1.54L12.88 -0.71L12.29 -0.71L11.71 -1.29L9.79 -7.21L9.29 -7.71L8.79 -7.96L9.29 -8.21L13.38 -12.29L14.88 -13.04L15.04 -12.96L14.38 -12.29L14.38 -11.62L15.71 -10.29L16.38 -10.29L17.71 -11.62L17.71 -13.29L16.38 -14.62L14.62 -14.62L12.79 -13.71L8.71 -9.62L6.88 -8.71L6.46 -8.71L6.38 -9.04L9.79 -20.96L9.71 -21.29L9.38 -21.62L9.04 -21.71Z"/><path transform="translate(-0.26 0.00) scale(0.5200)" d="M5.79 -13.71L5.29 -13.21L3.29 -10.21L2.29 -7.21L2.29 -3.96L2.38 -3.54L3.29 -1.71L4.79 -0.21L6.62 0.71L7.04 0.79L9.46 0.71L11.29 -0.21L11.79 -0.71L12.21 -1.38L12.38 -0.62L13.71 0.71L17.38 0.71L19.79 -1.71L20.71 -3.54L20.79 -3.96L20.71 -4.29L20.38 -4.62L19.71 -4.62L19.29 -4.21L18.38 -2.29L16.79 -0.71L15.29 -0.71L14.79 -1.21L14.79 -3.04L15.71 -6.71L17.71 -13.46L17.71 -14.29L17.38 -14.62L17.04 -14.71L16.54 -14.46L16.04 -14.71L15.71 -14.62L15.29 -14.12L14.46 -11.21L13.79 -13.21L13.29 -13.71L11.46 -14.62L8.79 -14.71ZM10.88 -13.21L12.46 -12.38L13.29 -9.88L13.29 -7.04L12.38 -4.29L10.62 -1.62L8.88 -0.71L7.21 -0.71L5.71 -1.46L4.79 -3.12L4.79 -6.88L5.71 -9.62L7.46 -12.29L9.21 -13.21Z"/></g><g transform="translate(49.50 130.00) rotate(-90)" fill="#000"><path transform="translate(-31.85 0.00) scale(0.5200)" d="M12.46 -14.62L8.79 -14.71L5.79 -13.71L5.29 -13.21L3.29 -10.21L2.29 -7.21L2.38 -3.54L3.29 -1.71L4.79 -0.21L6.62 0.71L9.29 0.79L12.29 -0.21L12.79 -0.71L14.71 -3.62L14.71 -4.29L14.38 -4.62L13.71 -4.62L13.29 -4.21L11.79 -1.88L11.46 -1.54L8.96 -0.71L7.21 -0.71L5.71 -1.46L4.79 -3.12L4.79 -6.88L5.71 -9.62L7.54 -12.38L9.21 -13.21L11.88 -13.21L13.38 -12.46L13.79 -11.79L13.38 -11.29L13.29 -10.96L13.29 -9.96L13.38 -9.62L13.71 -9.29L15.04 -9.21L15.38 -9.29L15.71 -9.62L15.71 -11.38L14.79 -13.21L14.29 -13.71Z"/><path transform="translate(-23.53 2.34) scale(0.3224)" d="M16.96 -13.88L14.71 -15.04L14.04 -15.21L11.62 -15.12L9.54 -14.12L9.04 -13.71L7.96 -14.88L7.46 -15.12L4.04 -15.21L3.12 -14.88L1.12 -12.88L-0.04 -10.62L-0.21 -9.96L0.04 -9.21L0.62 -8.79L1.04 -8.71L1.79 -8.96L2.21 -9.46L2.96 -11.04L4.62 -12.71L5.46 -12.71L5.79 -12.38L5.79 -11.04L4.71 -6.71L1.21 5.54L1.04 5.79L-0.96 5.79L-1.71 6.04L-1.96 6.29L-2.21 7.04L-2.12 7.46L-1.71 8.04L-0.96 8.29L6.04 8.29L6.46 8.21L7.04 7.79L7.29 7.04L7.21 6.62L6.79 6.04L6.04 5.79L4.71 5.71L6.62 -0.88L6.79 -0.79L7.04 -0.21L7.54 0.21L9.38 1.12L10.04 1.29L12.62 1.21L15.38 0.29L16.04 -0.21L18.29 -3.62L19.21 -6.38L19.29 -6.96L19.29 -9.96L19.12 -10.62L17.96 -12.88ZM13.79 -12.71L14.96 -12.12L15.21 -11.88L15.79 -10.71L15.79 -7.12L14.88 -4.38L13.38 -2.12L13.12 -1.88L11.79 -1.21L10.29 -1.21L9.04 -1.88L8.29 -4.12L8.29 -6.79L9.21 -9.54L10.71 -11.79L10.96 -12.04L12.29 -12.71Z"/><path transform="translate(-16.76 2.34) scale(0.3224)" d="M4.29 -21.96L4.04 -21.71L3.79 -20.96L4.04 -20.21L4.62 -19.79L6.29 -19.71L6.38 -19.54L0.88 -0.54L0.79 0.04L1.04 0.79L1.29 1.04L2.04 1.29L2.54 1.12L3.04 1.29L3.46 1.21L4.04 0.79L4.38 0.04L6.21 -6.54L7.96 -10.04L9.96 -12.04L11.29 -12.71L12.46 -12.71L13.79 -11.38L13.79 -10.12L11.88 -4.54L11.88 -0.54L12.12 -0.04L13.12 0.96L13.62 1.21L17.04 1.29L17.96 0.96L19.96 -1.04L21.12 -3.29L21.29 -3.96L21.21 -4.38L20.79 -4.96L20.04 -5.21L19.62 -5.12L19.04 -4.71L18.12 -2.88L16.46 -1.21L15.62 -1.21L15.29 -1.54L15.29 -3.79L17.21 -9.38L17.29 -11.96L16.96 -12.88L15.96 -13.88L13.71 -15.04L13.04 -15.21L10.62 -15.12L8.46 -14.04L8.38 -14.21L10.21 -20.38L10.29 -20.96L10.04 -21.71L9.79 -21.96L9.04 -22.21L5.04 -22.21Z"/><path transform="translate(10.81 0.00) scale(0.5200)" d="M3.71 -14.62L1.29 -12.21L0.38 -10.38L0.29 -9.96L0.38 -9.62L0.71 -9.29L1.38 -9.29L1.79 -9.71L2.71 -11.62L4.29 -13.21L5.79 -13.21L6.29 -12.71L6.29 -10.04L4.29 -4.21L4.38 -1.62L5.79 -0.21L7.62 0.71L8.04 0.79L9.29 0.79L12.29 -0.21L14.79 -2.71L16.79 -5.79L17.79 -9.79L17.71 -14.29L17.38 -14.62L17.04 -14.71L16.04 -14.71L15.71 -14.62L15.38 -14.29L15.38 -13.54L16.29 -11.79L16.29 -9.88L15.38 -6.29L13.46 -3.38L11.71 -1.62L8.96 -0.71L8.29 -0.71L6.79 -2.21L6.79 -3.88L8.79 -9.71L8.71 -13.29L7.38 -14.62Z"/><path transform="translate(20.17 2.34) scale(0.3224)" d="M13.79 -21.96L13.04 -22.21L12.29 -21.96L11.96 -21.62L-0.71 -1.21L-2.38 -1.12L-2.96 -0.71L-3.21 0.04L-3.12 0.46L-2.71 1.04L-1.96 1.29L4.04 1.29L4.79 1.04L5.04 0.79L5.29 0.04L5.21 -0.38L4.79 -0.96L4.04 -1.21L2.38 -1.29L4.46 -4.71L11.54 -4.62L11.71 -1.29L9.62 -1.12L9.29 -0.96L8.88 -0.38L8.88 0.46L9.04 0.79L9.62 1.21L16.04 1.29L16.46 1.21L17.04 0.79L17.29 0.04L17.04 -0.71L16.46 -1.12L15.21 -1.29L14.38 -20.12L14.21 -21.38ZM10.88 -15.04L11.04 -14.88L11.38 -7.29L6.12 -7.21L6.12 -7.46Z"/><path transform="translate(26.62 2.34) scale(0.3224)" d="M3.62 -15.12L3.12 -14.88L1.12 -12.88L-0.04 -10.62L-0.21 -9.96L0.04 -9.21L0.62 -8.79L1.46 -8.79L2.04 -9.21L2.96 -11.04L4.62 -12.71L5.46 -12.71L5.79 -12.38L5.79 -10.12L3.88 -4.54L3.88 -0.54L4.12 -0.04L5.12 0.96L5.62 1.21L9.46 1.21L9.96 0.96L11.96 -1.04L13.12 -3.29L13.29 -3.96L13.04 -4.71L12.46 -5.12L11.62 -5.12L11.04 -4.71L10.12 -2.88L8.46 -1.21L7.62 -1.21L7.29 -1.54L7.29 -3.79L9.21 -9.38L9.21 -13.38L8.96 -13.88L7.96 -14.88L7.46 -15.12ZM9.04 -22.21L8.12 -21.88L7.12 -20.88L6.79 -19.96L7.12 -19.04L8.12 -18.04L9.04 -17.71L9.96 -18.04L10.96 -19.04L11.29 -19.96L10.96 -20.88L9.96 -21.88Z"/></g><line x1="36.6" y1="119.1" x2="53.2" y2="132.7" stroke="#000" stroke-width="0.80" stroke-linecap="round"/></svg></body></html>
